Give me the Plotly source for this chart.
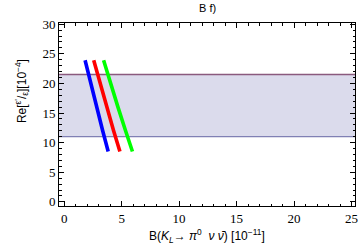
import plotly.graph_objects as go

# Data
band_low = 11.0
band_high = 21.5
x_range = [-0.45, 25.3]
y_range = [-0.7, 30.2]

blue_x = [1.82, 2.3, 2.82, 3.35, 3.83]
blue_y = [23.9, 20.0, 16.0, 12.0, 8.5]
red_x = [2.57, 3.07, 3.7, 4.3, 4.85]
red_y = [23.9, 20.3, 16.0, 12.0, 8.5]
green_x = [3.43, 3.98, 4.68, 5.34, 5.94]
green_y = [23.9, 20.3, 16.0, 12.0, 8.5]

x_ticks = [0, 5, 10, 15, 20, 25]
y_ticks = [0, 5, 10, 15, 20, 25, 30]

fig = go.Figure()

# band
fig.add_trace(go.Scatter(
    x=[x_range[0], x_range[1], x_range[1], x_range[0], x_range[0]],
    y=[band_low, band_low, band_high, band_high, band_low],
    fill="toself", fillcolor="rgba(190,190,220,0.55)",
    line=dict(width=0), mode="lines", hoverinfo="skip", showlegend=False))
fig.add_trace(go.Scatter(x=x_range, y=[band_high, band_high], mode="lines",
                         line=dict(color="#8a5a7e", width=1.3), showlegend=False))
fig.add_trace(go.Scatter(x=x_range, y=[band_low, band_low], mode="lines",
                         line=dict(color="#8080b4", width=1.3), showlegend=False))

for xs, ys, c in [(blue_x, blue_y, "#0000ff"), (red_x, red_y, "#ff0000"), (green_x, green_y, "#00ff00")]:
    fig.add_trace(go.Scatter(x=xs, y=ys, mode="lines", line=dict(color=c, width=3.6),
                             showlegend=False))

axis_common = dict(
    showline=True, linecolor="black", linewidth=1, mirror="ticks",
    ticks="inside", ticklen=5, tickcolor="black", tickwidth=1,
    showgrid=False, zeroline=False, automargin=False,
    tickfont=dict(family="Liberation Serif", size=13, color="black"),
)

fig.update_xaxes(range=x_range, tickvals=x_ticks,
                 minor=dict(dtick=1, ticks="inside", ticklen=2.5, tickcolor="black", showgrid=False),
                 **axis_common)
fig.update_yaxes(range=y_range, tickvals=y_ticks,
                 minor=dict(dtick=1, ticks="inside", ticklen=2.5, tickcolor="black", showgrid=False),
                 **axis_common)

fig.add_annotation(
    text="B(<i>K<sub>L</sub></i>→ <i>π</i><sup>0</sup>  <i>ν</i> <i>ν̄</i>) [10<sup>−11</sup>]",
    xref="paper", yref="paper", x=0.5, y=-0.164, xanchor="center", yanchor="middle",
    showarrow=False, font=dict(family="Liberation Sans", size=12, color="black"))
fig.add_annotation(
    text="Re[<sup>ε'</sup>/<sub>ε</sub>][10<sup>−4</sup>]",
    xref="paper", yref="paper", x=-0.125, y=0.628, xanchor="center", yanchor="middle",
    textangle=-90, showarrow=False, font=dict(family="Liberation Sans", size=12, color="black"))
fig.add_annotation(
    text="B f)", xref="paper", yref="paper", x=0.5, y=1.082, xanchor="center", yanchor="middle",
    showarrow=False, font=dict(family="Liberation Sans", size=11, color="black"))

fig.update_layout(
    width=360, height=250,
    margin=dict(l=59, r=5, t=23, b=44),
    plot_bgcolor="white", paper_bgcolor="white",
)

fig.write_html("out.html", config={"displayModeBar": False},
               post_script="document.body.style.margin='0';document.body.style.overflow='hidden';")
